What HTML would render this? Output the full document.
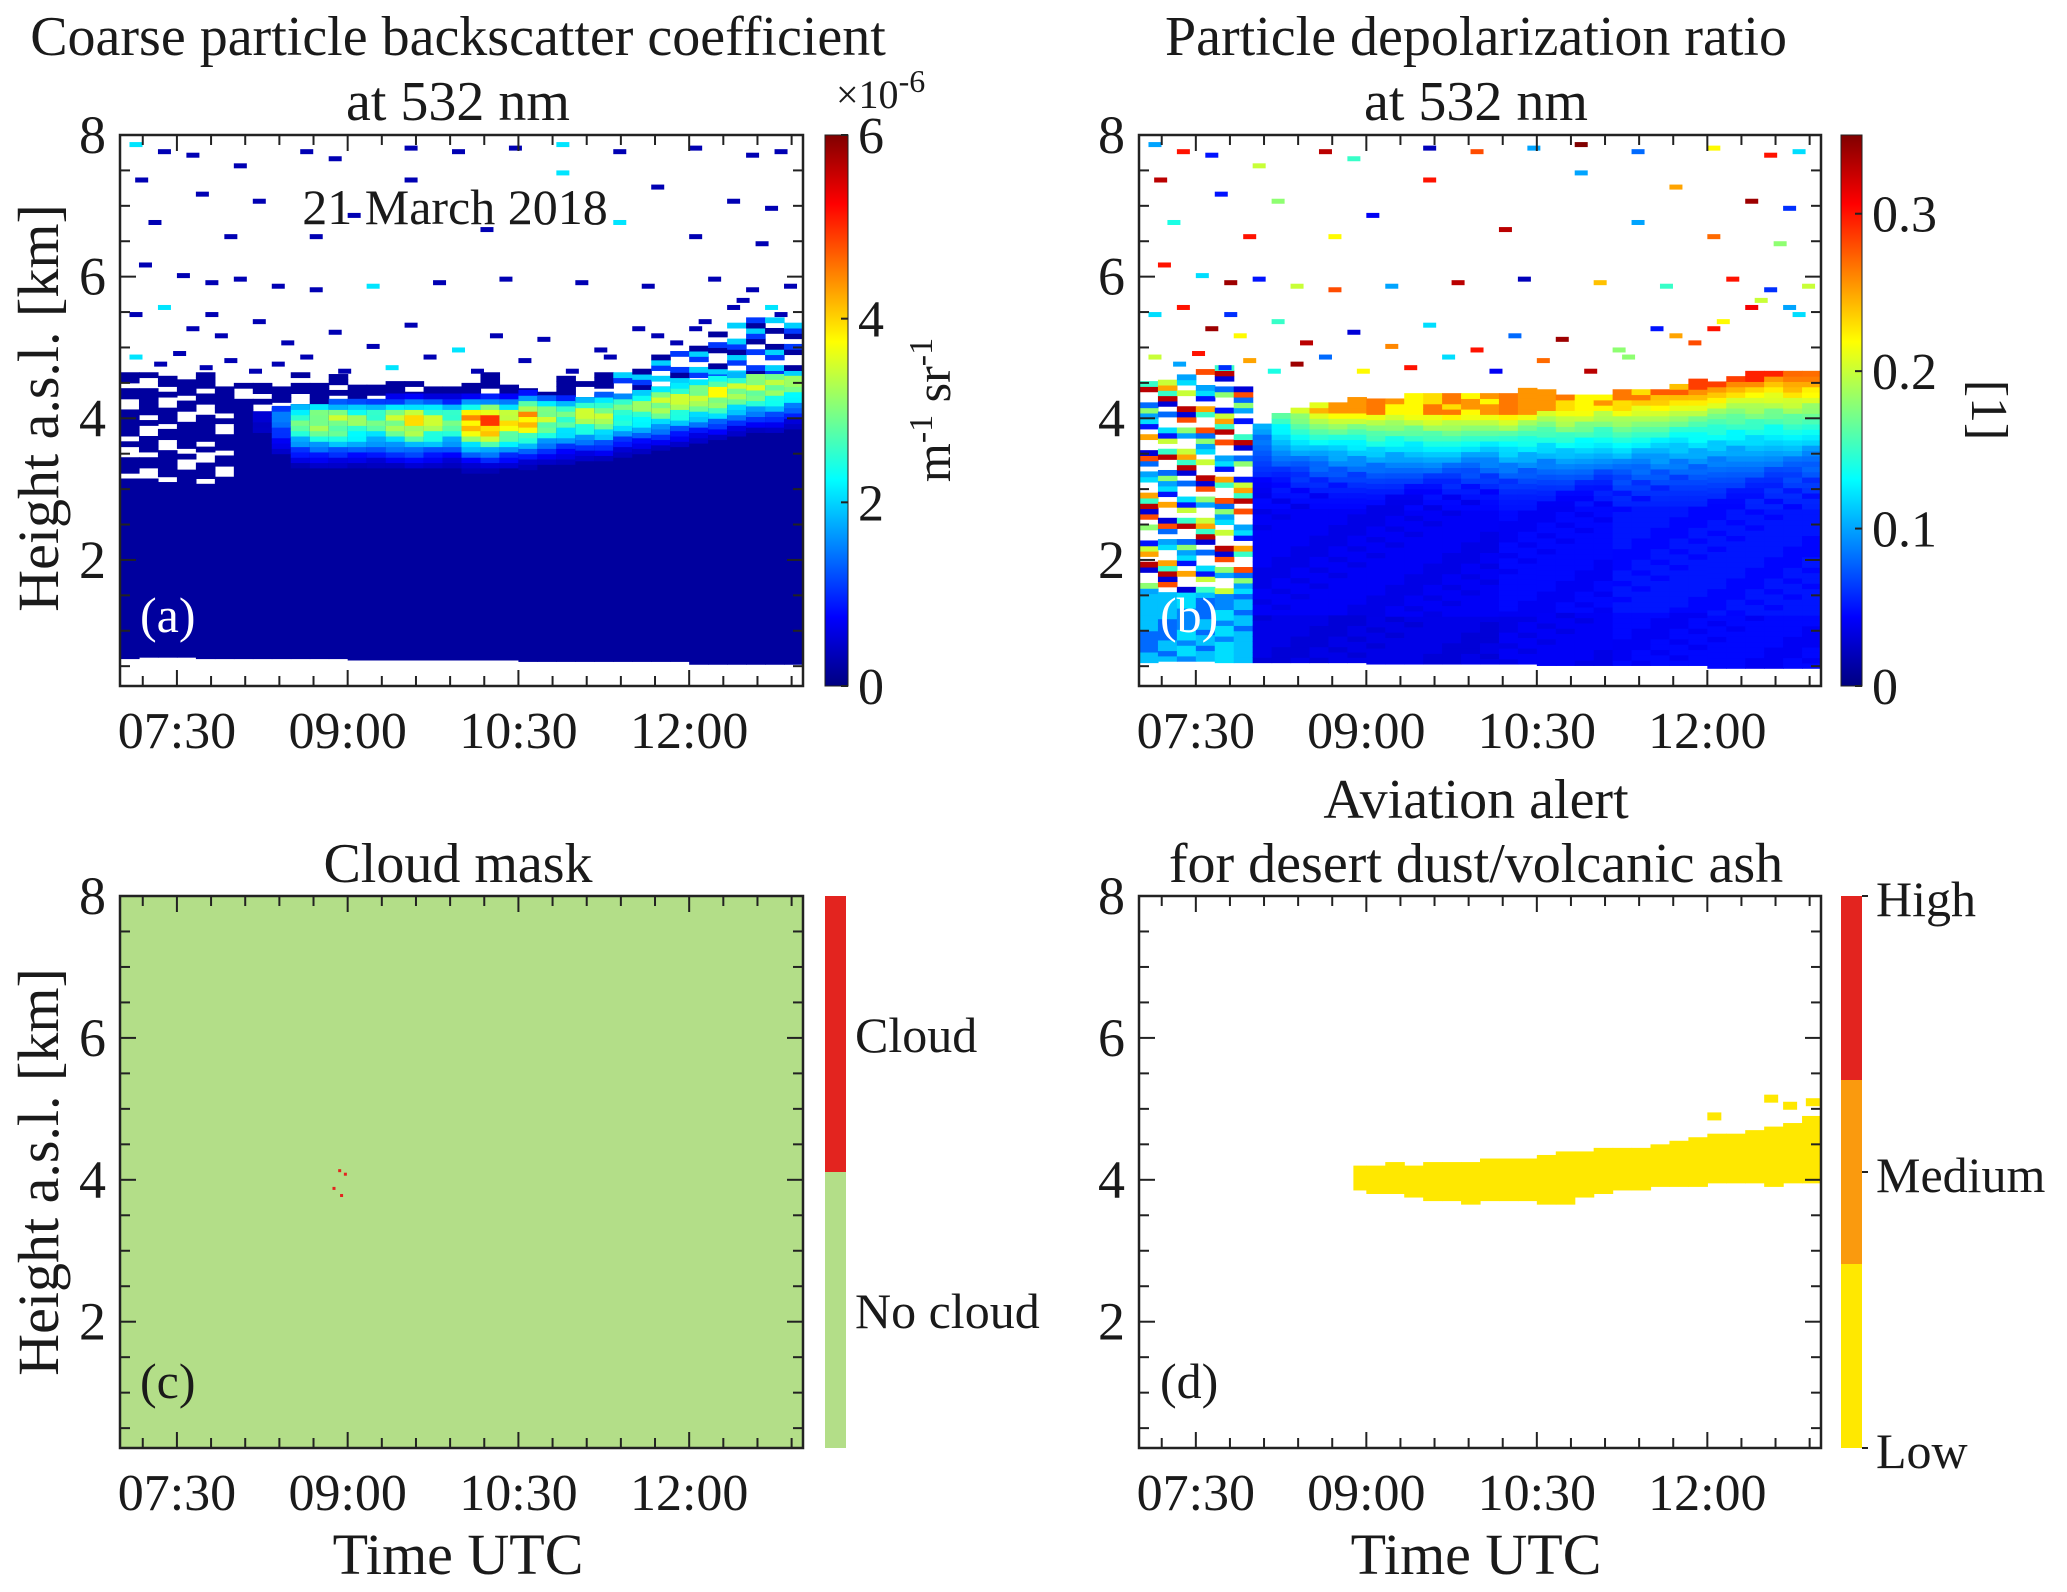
<!DOCTYPE html>
<html><head><meta charset="utf-8">
<style>
html,body{margin:0;padding:0;background:#fff;}
svg{display:block;}
text{font-family:"Liberation Serif",serif;fill:#1a1a1a;}
</style></head>
<body>
<svg id="fig" width="2067" height="1592" viewBox="0 0 2067 1592" xmlns="http://www.w3.org/2000/svg">
<g id="pa"></g>
<g id="pb"></g>
<g id="pc"></g>
<g id="pd"></g>
<g id="txt">
<text x="458" y="55" font-size="56" text-anchor="middle">Coarse particle backscatter coefficient</text>
<text x="458" y="120" font-size="56" text-anchor="middle">at 532 nm</text>
<text x="1476" y="55" font-size="56" text-anchor="middle">Particle depolarization ratio</text>
<text x="1476" y="120" font-size="56" text-anchor="middle">at 532 nm</text>
<text x="458" y="882" font-size="56" text-anchor="middle">Cloud mask</text>
<text x="1476" y="818" font-size="56" text-anchor="middle">Aviation alert</text>
<text x="1476" y="882" font-size="56" text-anchor="middle">for desert dust/volcanic ash</text>
<text x="455" y="224" font-size="50" text-anchor="middle">21 March 2018</text>
<text transform="translate(58,408) rotate(-90)" font-size="58" text-anchor="middle">Height a.s.l. [km]</text>
<text transform="translate(58,1172) rotate(-90)" font-size="58" text-anchor="middle">Height a.s.l. [km]</text>
<text x="458" y="1574" font-size="58" text-anchor="middle">Time UTC</text>
<text x="1476" y="1574" font-size="58" text-anchor="middle">Time UTC</text>
<text x="836" y="108" font-size="40">×10<tspan dy="-16" font-size="32">-6</tspan></text>
<text transform="translate(950,410) rotate(-90)" font-size="50" text-anchor="middle">m<tspan dy="-18" font-size="34">-1</tspan><tspan dy="18"> sr</tspan><tspan dy="-18" font-size="34">-1</tspan></text>
<text transform="translate(1972,410) rotate(90)" font-size="52" text-anchor="middle">[1]</text>
<text x="855" y="1052" font-size="50">Cloud</text>
<text x="855" y="1328" font-size="50">No  cloud</text>
<text x="1876" y="916" font-size="50">High</text>
<text x="1876" y="1192" font-size="50">Medium</text>
<text x="1876" y="1468" font-size="50">Low</text>
<text x="140" y="632" font-size="50" style="fill:#fff">(a)</text>
<text x="1160" y="632" font-size="50" style="fill:#fff">(b)</text>
<text x="140" y="1398" font-size="50">(c)</text>
<text x="1160" y="1398" font-size="50">(d)</text>
</g>
</svg>
<script>
// ---- data (10-min columns, 07:00 .. 12:50 UTC) ----
const colStartMin = [0,10,20,30,40,50,60,70,80,90,100,110,120,130,140,150,160,170,180,190,200,210,220,230,240,250,260,270,280,290,300,310,320,330,340,350];
const groundKm   = [0.6,0.62,0.62,0.62,0.6,0.6,0.6,0.6,0.6,0.6,0.6,0.6,0.58,0.58,0.58,0.58,0.58,0.58,0.58,0.58,0.58,0.56,0.56,0.56,0.56,0.56,0.56,0.56,0.56,0.56,0.52,0.52,0.52,0.52,0.52,0.52];
const denseTopKm = [3.0,3.0,3.1,3.2,3.0,3.1,3.9,4.05,4.15,4.2,4.2,4.25,4.25,4.25,4.3,4.3,4.3,4.3,4.35,4.35,4.4,4.35,4.3,4.3,4.3,4.35,4.35,4.4,4.45,4.5,4.5,4.55,4.6,4.6,4.6,4.6];
const noisyTopKm = [4.6,4.6,4.6,4.7,4.7,4.6,4.5,4.5,4.6,4.6,4.6,4.6,4.6,4.5,4.5,4.5,4.5,4.5,4.6,4.6,4.6,4.5,4.5,4.6,4.6,4.7,4.7,4.8,4.9,5.0,5.1,5.2,5.3,5.4,5.4,5.5];
const dustPeakE6 = [0,0,0,0,0,0,0,0.5,1.5,3.0,3.5,3.5,3.2,3.0,3.5,4.0,3.5,3.0,4.5,5.0,4.0,4.5,3.5,3.0,3.5,3.5,3.0,3.2,3.5,3.5,3.5,3.8,3.5,3.6,3.4,3.2];
const dustCenterKm = [4,4,4,4,4,4,4,4.0,4.0,3.95,3.95,3.95,3.95,3.95,3.95,3.95,3.95,3.95,3.95,3.95,3.95,4.0,4.0,4.0,4.05,4.05,4.1,4.15,4.2,4.25,4.3,4.35,4.4,4.45,4.45,4.5];
const depolLayer = [0,0,0,0,0,0,0.12,0.17,0.2,0.21,0.22,0.22,0.23,0.22,0.22,0.23,0.23,0.22,0.22,0.23,0.22,0.22,0.23,0.22,0.22,0.23,0.23,0.24,0.24,0.25,0.25,0.25,0.26,0.26,0.27,0.27];
const depolBase  = [0.08,0.08,0.09,0.08,0.09,0.08,0.035,0.035,0.035,0.035,0.035,0.035,0.035,0.035,0.035,0.035,0.035,0.035,0.035,0.04,0.04,0.04,0.04,0.04,0.04,0.045,0.045,0.045,0.045,0.045,0.045,0.045,0.045,0.045,0.045,0.045];
const alertBottomKm = [0,0,0,0,0,0,0,0,0,0,0,3.85,3.8,3.8,3.75,3.7,3.7,3.65,3.7,3.7,3.7,3.65,3.65,3.75,3.8,3.85,3.85,3.9,3.9,3.9,3.95,3.95,3.95,3.9,3.95,3.95];
const alertTopKm    = [0,0,0,0,0,0,0,0,0,0,0,4.2,4.2,4.25,4.2,4.25,4.25,4.25,4.3,4.3,4.3,4.35,4.4,4.4,4.45,4.45,4.45,4.5,4.55,4.6,4.65,4.65,4.7,4.75,4.8,4.9];
// sparse specks above the layer: [minute after 07:00, km]
const specksA = [[5,7.9],[20,7.8],[35,7.75],[60,7.6],[95,7.8],[110,7.7],[150,7.85],[175,7.8],[205,7.85],[230,7.9],[260,7.8],[300,7.85],[330,7.75],[345,7.8],
[8,7.4],[40,7.2],[70,7.1],[150,7.4],[230,7.5],[280,7.3],[320,7.1],[340,7.0],[15,6.8],[55,6.6],[100,6.6],[120,6.9],[190,6.7],[260,6.8],[300,6.6],[335,6.5],
[10,6.2],[30,6.05],[45,5.95],[60,6.0],[80,5.9],[100,5.85],[130,5.9],[165,5.95],[200,6.0],[240,5.95],[275,5.9],[310,6.0],[330,5.85],[350,5.9],
[5,5.5],[20,5.6],[35,5.3],[45,5.5],[50,5.2],[70,5.4],[85,5.1],[110,5.25],[130,5.05],[150,5.35],[175,5.0],[195,5.2],[220,5.15],[250,5.0],[270,5.3],[290,5.1],[305,5.4],[320,5.6],[345,5.5],
[5,4.9],[18,4.8],[28,4.95],[42,4.75],[55,4.85],[68,4.7],[80,4.8],[95,4.9],[115,4.7],[140,4.75],[160,4.9],[185,4.7],[210,4.85],[235,4.7],[255,4.9],[280,5.2],[300,5.3],[325,5.7],[340,5.6]];
const speckDepol = [0.1,0.3,0.05,0.2,0.33,0.15,0.02,0.28,0.1,0.35,0.08,0.22,0.3,0.12,
0.33,0.05,0.18,0.3,0.1,0.25,0.34,0.06,0.14,0.3,0.22,0.04,0.33,0.1,0.27,0.18,
0.3,0.12,0.34,0.05,0.2,0.28,0.1,0.33,0.02,0.24,0.15,0.3,0.06,0.2,
0.12,0.3,0.34,0.06,0.22,0.15,0.33,0.03,0.26,0.12,0.3,0.08,0.34,0.18,0.05,0.28,0.22,0.31,0.12,
0.2,0.1,0.3,0.06,0.25,0.14,0.34,0.08,0.22,0.3,0.12,0.04,0.27,0.33,0.18,0.25,0.3,0.2,0.1];
const xTickLabels = ["07:30","09:00","10:30","12:00"];
const xTickMin = [30,120,210,300];
const yTickLabels = ["2","4","6","8"];
const yTickKm = [2,4,6,8];
const cbATicks = ["0","2","4","6"];
const cbAVals = [0,2,4,6];
const cbBTicks = ["0","0.1","0.2","0.3"];
const cbBVals = [0,0.1,0.2,0.3];

// ---- layout ----
const NS="http://www.w3.org/2000/svg";
const panels = {
  a:{x0:120,x1:803,y0:135,y1:686,g:'pa',cb:[825,848]},
  b:{x0:1139,x1:1821,y0:135,y1:686,g:'pb',cb:[1841,1862]},
  c:{x0:120,x1:803,y0:896,y1:1448,g:'pc',cb:[825,846]},
  d:{x0:1139,x1:1821,y0:896,y1:1448,g:'pd',cb:[1841,1862]}
};
const T0=0,T1=360,H0=0.22,H1=8;
function xs(p,m){return p.x0+(m-T0)/(T1-T0)*(p.x1-p.x0);}
function ys(p,h){return p.y1-(h-H0)/(H1-H0)*(p.y1-p.y0);}
function el(tag,attrs,parent){const e=document.createElementNS(NS,tag);for(const k in attrs)e.setAttribute(k,attrs[k]);parent.appendChild(e);return e;}
function jet(t){t=Math.max(0,Math.min(1,t));const c=v=>Math.round(255*Math.max(0,Math.min(1,v)));
  return `rgb(${c(1.5-Math.abs(4*t-3))},${c(1.5-Math.abs(4*t-2))},${c(1.5-Math.abs(4*t-1))})`;}
const DH=0.075;
const noisePat=[1,0,1,1,0,1,0,1,1,1,0,0,1,1,0,1,1];
const noiseVals=[0.05,0.15,0.28,0.1,0.2,0.33,0.08,0.12,0.25,0.03,0.18];

// ---- panel a ----
(function(){
  const p=panels.a,g=document.getElementById(p.g);
  const cw=(p.x1-p.x0)/colStartMin.length;
  colStartMin.forEach((m,i)=>{
    const x=xs(p,m);
    const r=el('rect',{x:x,y:ys(p,denseTopKm[i]),width:cw+0.6,height:ys(p,groundKm[i])-ys(p,denseTopKm[i]),fill:jet(0.03)},g);
    
    
    let j=0;
    for(let h=denseTopKm[i];h<noisyTopKm[i];h+=DH,j++){
      if(!noisePat[(j*3+i*5)%noisePat.length])continue;
      const c=el('rect',{x:x,y:ys(p,h+DH),width:cw+0.6,height:ys(p,h)-ys(p,h+DH)+0.5,fill:jet(0.03+(i>25?0.15*((j+i)%3):0))},g);
      
      
    }
    if(dustPeakE6[i]>0){
      for(let h=dustCenterKm[i]-0.8;h<Math.min(denseTopKm[i],dustCenterKm[i]+0.4);h+=DH){
        const d=(h-dustCenterKm[i]);const w=d<0?0.45:0.25;
        const v=dustPeakE6[i]*Math.exp(-(d/w)*(d/w))*(0.85+0.15*noisePat[(Math.round(h*13)+i)%noisePat.length]);
        if(v<0.3)continue;
        const c=el('rect',{x:x,y:ys(p,h+DH),width:cw+0.6,height:ys(p,h)-ys(p,h+DH)+0.5,fill:jet(v/6)},g);
        
        
      }
    }
  });
  specksA.forEach(([m,h],k)=>{
    const s=el('rect',{x:xs(p,m),y:ys(p,h),width:13,height:5,fill:jet(k%9==0?0.35:0.05)},g);
    
    
  });
})();

// ---- panel b ----
(function(){
  const p=panels.b,g=document.getElementById(p.g);
  const cw=(p.x1-p.x0)/colStartMin.length;
  colStartMin.forEach((m,i)=>{
    const x=xs(p,m);let j=0;
    const top=depolLayer[i]>0?denseTopKm[i]:noisyTopKm[i];
    for(let h=groundKm[i]-0.05;h<top;h+=DH,j++){
      let v;
      const nz=noisePat[(j*7+i*3)%noisePat.length];
      if(depolLayer[i]===0){
        if(h>1.5 && !noisePat[(j*3+i*5)%noisePat.length])continue;
        v=h<1.5?depolBase[i]+0.03*nz:noiseVals[(j*7+i*3)%noiseVals.length];
      }else{
        const c=dustCenterKm[i]+0.1;
        if(h<2.7) v=depolBase[i]+(h<1.2?-0.005:0)+0.006*nz;
        else if(h<c) v=depolBase[i]+(depolLayer[i]-depolBase[i])*Math.pow((h-2.7)/(c-2.7),1.8)+0.01*nz;
        else v=depolLayer[i]+0.035*nz;
      }
      const r=el('rect',{x:x,y:ys(p,h+DH),width:cw+0.6,height:ys(p,h)-ys(p,h+DH)+0.5,fill:jet(v/0.35)},g);
      
      
    }
  });
  specksA.forEach(([m,h],k)=>{
    const s=el('rect',{x:xs(p,m),y:ys(p,h),width:13,height:5,fill:jet(speckDepol[k]/0.35)},g);
    
    
  });
})();

// ---- panel c ----
(function(){
  const p=panels.c,g=document.getElementById(p.g);
  const r=el('rect',{x:p.x0,y:p.y0,width:p.x1-p.x0,height:p.y1-p.y0,fill:'#b3de88'},g);
  
  
  [[115,4.15],[118,4.1],[112,3.9],[116,3.8]].forEach(([m,h])=>{
    const d=el('rect',{x:xs(p,m),y:ys(p,h),width:3,height:3,fill:'#e3241f'},g);
    
    
  });
})();

// ---- panel d ----
(function(){
  const p=panels.d,g=document.getElementById(p.g);
  const cw=(p.x1-p.x0)/colStartMin.length;
  colStartMin.forEach((m,i)=>{
    if(alertTopKm[i]<=0)return;
    const r=el('rect',{x:xs(p,m)+(i==11?6:0),y:ys(p,alertTopKm[i]),width:cw+0.6-(i==11?6:0),height:ys(p,alertBottomKm[i])-ys(p,alertTopKm[i]),fill:'#ffe800'},g);
    
    
  });
  [[330,5.2],[340,5.1],[300,4.95],[352,5.15]].forEach(([m,h])=>{
    const s=el('rect',{x:xs(p,m),y:ys(p,h),width:14,height:8,fill:'#ffe800'},g);
    
    
  });
})();

// ---- axes ----
for(const key in panels){
  const p=panels[key],g=document.getElementById(p.g);
  const ax=el('g',{},g);
  
  
  const box=el('rect',{x:p.x0,y:p.y0,width:p.x1-p.x0,height:p.y1-p.y0,fill:'none',stroke:'#222','stroke-width':2.5},ax);
  
  
  for(let m=12;m<T1;m+=18){
    const major=xTickMin.includes(m);const L=major?16:10;const x=xs(p,m);
    el('line',{x1:x,x2:x,y1:p.y1,y2:p.y1-L,stroke:'#222','stroke-width':2},ax);
    el('line',{x1:x,x2:x,y1:p.y0,y2:p.y0+L,stroke:'#222','stroke-width':2},ax);
  }
  xTickLabels.forEach((lab,k)=>{
    const t=el('text',{x:xs(p,xTickMin[k]),y:p.y1+62,'font-size':52,'text-anchor':'middle'},ax);
    t.textContent=lab;
    
    
  });
  for(let h=0.5;h<=8;h+=0.5){
    const major=yTickKm.includes(h);const L=major?16:10;const y=ys(p,h);
    el('line',{x1:p.x0,x2:p.x0+L,y1:y,y2:y,stroke:'#222','stroke-width':2},ax);
    el('line',{x1:p.x1,x2:p.x1-L,y1:y,y2:y,stroke:'#222','stroke-width':2},ax);
  }
  yTickLabels.forEach((lab,k)=>{
    const t=el('text',{x:p.x0-14,y:ys(p,yTickKm[k])+18,'font-size':54,'text-anchor':'end'},ax);
    t.textContent=lab;
    
    
  });
}

// ---- colorbars ----
(function(){
  const defs=el('defs',{},document.getElementById('fig'));
  const lg=el('linearGradient',{id:'jetg',x1:0,y1:1,x2:0,y2:0},defs);
  for(let k=0;k<=16;k++)el('stop',{offset:k/16,'stop-color':jet(k/16)},lg);
  [['a',cbATicks,cbAVals,6],['b',cbBTicks,cbBVals,0.35]].forEach(([key,labs,vals,vmax])=>{
    const p=panels[key],g=document.getElementById(p.g);
    const r=el('rect',{x:p.cb[0],y:p.y0,width:p.cb[1]-p.cb[0],height:p.y1-p.y0,fill:'url(#jetg)',stroke:'#222','stroke-width':1},g);
    
    
    vals.forEach((v,k)=>{
      const y=p.y1-v/vmax*(p.y1-p.y0);
      el('line',{x1:p.cb[1],x2:p.cb[1]-7,y1:y,y2:y,stroke:'#222','stroke-width':2},g);
      const t=el('text',{x:p.cb[1]+10,y:y+18,'font-size':52},g);
      t.textContent=labs[k];
      
      
    });
  });
  const pc=panels.c,gc=document.getElementById(pc.g),mid=(pc.y0+pc.y1)/2;
  const c1=el('rect',{x:pc.cb[0],y:pc.y0,width:pc.cb[1]-pc.cb[0],height:mid-pc.y0,fill:'#e3241f'},gc);
  
  
  const c2=el('rect',{x:pc.cb[0],y:mid,width:pc.cb[1]-pc.cb[0],height:pc.y1-mid,fill:'#b3de88'},gc);
  
  
  const pd=panels.d,gd=document.getElementById(pd.g),th=(pd.y1-pd.y0)/3;
  ['#e3241f','#fa9a0e','#ffe800'].forEach((col,k)=>{
    const s=el('rect',{x:pd.cb[0],y:pd.y0+k*th,width:pd.cb[1]-pd.cb[0],height:th,fill:col},gd);
    
    
  });
  [pd.y0,(pd.y0+pd.y1)/2,pd.y1].forEach(y=>el('line',{x1:pd.cb[1],x2:pd.cb[1]+6,y1:y,y2:y,stroke:'#222','stroke-width':2},gd));
})();
</script>
</body></html>
